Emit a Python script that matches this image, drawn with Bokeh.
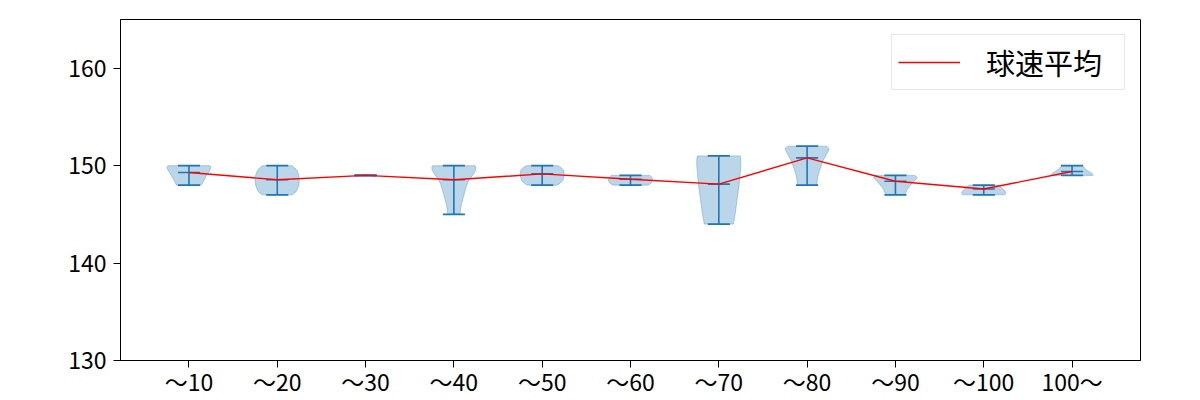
from bokeh.plotting import figure
from bokeh.models import Range1d, FixedTicker, Legend, LegendItem
from bokeh.embed import file_html
from bokeh.resources import INLINE

# ---- data ----
categories = ["〜10", "〜20", "〜30", "〜40", "〜50", "〜60", "〜70", "〜80", "〜90", "〜100", "100〜"]
positions = [1, 2, 3, 4, 5, 6, 7, 8, 9, 10, 11]
mins = [148, 147, 149, 145, 148, 148, 144, 148, 147, 147, 149]
maxs = [150, 150, 149, 150, 150, 149, 151, 152, 149, 148, 150]
means = [149.3, 148.55, 149.0, 148.55, 149.15, 148.6, 148.1, 150.8, 148.4, 147.6, 149.4]

# violin outlines: speed levels and half-widths (in category units)
violin_levels = [
    [148, 148.5, 149, 149.5, 149.8, 150],
    [147, 147.25, 147.5, 148, 148.5, 149, 149.5, 149.75, 150],
    [149],
    [145, 145.5, 146, 146.5, 147, 147.5, 148, 148.5, 149, 149.5, 149.8, 150],
    [148, 148.25, 148.5, 149, 149.5, 149.75, 150],
    [148, 148.25, 148.5, 148.75, 149],
    [144, 144.5, 145, 146, 147, 148, 149, 150, 150.5, 151],
    [148, 148.5, 149, 149.5, 150, 150.5, 151, 151.5, 151.75, 152],
    [147, 147.5, 148, 148.5, 148.75, 149],
    [147, 147.25, 147.5, 147.75, 148],
    [149, 149.25, 149.5, 149.75, 150],
]
violin_halfwidths = [
    [0.14, 0.17, 0.2, 0.235, 0.25, 0.24],
    [0.17, 0.205, 0.225, 0.245, 0.25, 0.245, 0.225, 0.2, 0.17],
    [0.0],
    [0.07, 0.075, 0.085, 0.1, 0.115, 0.13, 0.145, 0.17, 0.21, 0.245, 0.25, 0.24],
    [0.17, 0.21, 0.235, 0.25, 0.245, 0.22, 0.18],
    [0.2, 0.24, 0.25, 0.245, 0.22],
    [0.165, 0.175, 0.185, 0.2, 0.215, 0.23, 0.24, 0.25, 0.25, 0.245],
    [0.11, 0.115, 0.125, 0.14, 0.16, 0.18, 0.21, 0.24, 0.25, 0.22],
    [0.11, 0.13, 0.17, 0.22, 0.25, 0.22],
    [0.24, 0.25, 0.23, 0.2, 0.17],
    [0.24, 0.22, 0.17, 0.14, 0.12],
]
yticks = [130, 140, 150, 160]
legend_label = "球速平均"

FONT = "Noto Sans CJK JP"
BLUE = "#1f77b4"

p = figure(frame_width=1020, frame_height=341, output_backend="svg", toolbar_location=None,
           x_range=Range1d(0.225, 11.775), y_range=Range1d(130, 165),
           min_border_left=120, min_border_right=60, min_border_top=19, min_border_bottom=30)
p.background_fill_color = "white"
p.border_fill_color = "white"
p.xgrid.visible = False
p.ygrid.visible = False
p.outline_line_color = "black"
p.outline_line_width = 1
p.outline_line_alpha = 1

# violin bodies
xs, ys = [], []
for pos, lv, hw in zip(positions, violin_levels, violin_halfwidths):
    if len(lv) < 2:
        continue
    left = [pos - w for w in hw]
    right = [pos + w for w in hw][::-1]
    xs.append(left + right)
    ys.append(list(lv) + list(lv)[::-1])
p.patches(xs, ys, fill_color=BLUE, fill_alpha=0.3, line_color=BLUE, line_alpha=0.3, line_width=1)

# extrema bars and caps
cap = 0.125
p.segment(x0=positions, y0=mins, x1=positions, y1=maxs, line_color=BLUE, line_width=1.6)
for arr in (mins, maxs, means):
    p.segment(x0=[x - cap for x in positions], y0=arr, x1=[x + cap for x in positions], y1=arr,
              line_color=BLUE, line_width=1.6)

# mean line
mean_line = p.line(positions, means, line_color="red", line_width=1.4)

legend = Legend(items=[LegendItem(label=legend_label, renderers=[mean_line])],
                location="top_right", label_text_font=FONT, label_text_font_size="29px",
                label_text_color="black",
                glyph_width=62, glyph_height=20, label_height=20, label_width=132,
                label_standoff=26, padding=6, margin=15,
                border_line_color="#d0d0d0", border_line_width=1, background_fill_alpha=0.8,
                spacing=0)
p.add_layout(legend)

for ax in (p.xaxis, p.yaxis):
    ax.axis_line_color = "black"
    ax.major_tick_line_color = "black"
    ax.major_tick_out = 7
    ax.major_tick_in = 0
    ax.minor_tick_line_color = None
    ax.major_label_text_font = FONT
    ax.major_label_text_font_size = "23px"
    ax.major_label_text_color = "black"

p.xaxis.major_label_standoff = -4
p.yaxis.major_label_standoff = 7

p.xaxis.ticker = FixedTicker(ticks=positions)
p.xaxis.major_label_overrides = {pos: lab for pos, lab in zip(positions, categories)}
p.yaxis.ticker = FixedTicker(ticks=yticks)

open("out.html", "w").write(file_html(p, INLINE))
